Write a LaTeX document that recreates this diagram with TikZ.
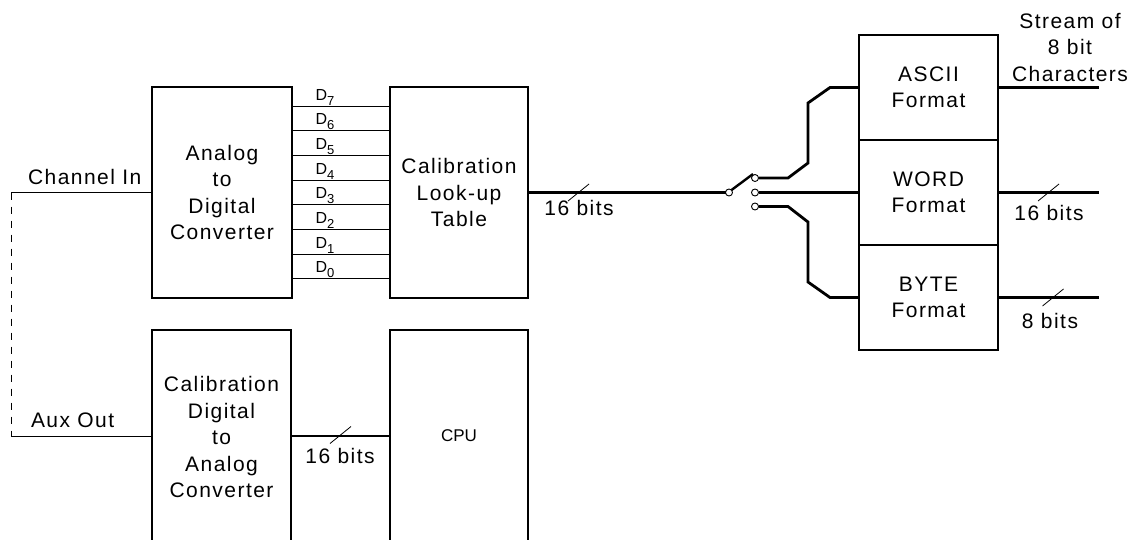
\documentclass[tikz,border=0pt]{standalone}
\usepackage{fontspec}
\setmainfont{Liberation Sans}
\newfontfamily\lblfamily{Liberation Sans}[LetterSpace=7]
\newcommand\lbl{\lblfamily\fontsize{21}{26.5}\selectfont}
\newcommand\cpufont{\rmfamily\fontsize{17}{20}\selectfont}
\newcommand\dfont{\lblfamily\fontsize{16}{18}\selectfont}
\newcommand\subfont{\lblfamily\fontsize{13}{14}\selectfont}
\begin{document}
\begin{tikzpicture}[x=1pt,y=-1pt,
  every node/.style={inner sep=0pt, outer sep=0pt},
  box/.style={draw, line width=1.1pt, align=center, font=\lbl},
  wire/.style={line width=1pt},
  bus/.style={line width=2.8pt},
  slashln/.style={line width=0.8pt},
  txt/.style={font=\lbl, align=center},
  contact/.style={circle, draw, line width=0.9pt, fill=white, minimum size=7pt},
]
\useasboundingbox (0,0) rectangle (1143,539);
\clip (0,0) rectangle (1143,539);

% main boxes
\node[box, minimum width=140, minimum height=211] (adc) at (222,192.5) {Analog\\to\\Digital\\Converter};
\node[box, minimum width=138, minimum height=211] (lut) at (459,192.5) {Calibration\\Look-up\\Table};
\node[box, minimum width=139, minimum height=214, anchor=north] (dac) at (221.5,330) {Calibration\\Digital\\to\\Analog\\Converter};
\node[box, minimum width=138, minimum height=212, anchor=north, font=\cpufont] (cpu) at (459,330) {CPU};

% format boxes
\node[box, minimum width=139, minimum height=105] (ascii) at (928.5,87.5) {ASCII\\Format};
\node[box, minimum width=139, minimum height=105] (word) at (928.5,192.5) {WORD\\Format};
\node[box, minimum width=139, minimum height=105] (byte) at (928.5,297.5) {BYTE\\Format};

% channel in / aux out
\node[txt, anchor=base west] (chin) at (28,184) {Channel In};
\node[txt, anchor=base west] (auxout) at (31,427) {Aux Out};
\coordinate (dtop) at (11,192.5);
\coordinate (dbot) at (11,436);
\draw[wire] (adc.west) -- (dtop);
\draw[wire, dash pattern=on 7pt off 7pt] (dtop) -- (dbot);
\draw[wire] (dbot) -- (dbot -| dac.west);

% data lines
\foreach \i/\y in {7/106,6/130.7,5/155.4,4/180.1,3/204.8,2/229.5,1/254.2,0/278.9}{
  \draw[wire] (adc.east |- 0,\y) -- (lut.west |- 0,\y);
  \node[anchor=base west, font=\dfont] (d\i) at (315.5,\y-6) {D\raisebox{-5pt}{\subfont\i}};
}

% switch
\node[contact] (pivot) at (729,192.5) {};
\node[contact] (c1) at (755,178) {};
\node[contact] (c2) at (755,192.5) {};
\node[contact] (c3) at (755,206.5) {};
\coordinate (lev) at (753,174);
\draw[bus] (lut.east) -- (pivot.west);
\draw[bus, line width=2.4pt] (pivot.45) -- (lev);
\draw[bus] (c1.east) -- (788,178) -- (808,163) -- (808,103) -- (830,87.5) -- (ascii.west);
\draw[bus] (c2.east) -- (word.west);
\draw[bus] (c3.east) -- (788,206.5) -- (808,222) -- (808,282) -- (830,297.5) -- (byte.west);

% outputs
\coordinate (o1) at (1099,87.5);
\coordinate (o2) at (1099,192.5);
\coordinate (o3) at (1099,297.5);
\draw[bus] (ascii.east) -- (o1);
\draw[bus] (word.east) -- (o2);
\draw[bus] (byte.east) -- (o3);
\node[txt] (stream) at (1070,47) {Stream of\\8 bit\\Characters};

% DAC to CPU bus
\draw[bus] (dac.east |- 0,436) -- (cpu.west |- 0,436);

% slashes
\draw[slashln] (578.5,192.5) +(-10.5,8.5) -- +(10.5,-8.5);
\draw[slashln] (340.5,435) +(-10.5,8.5) -- +(10.5,-8.5);
\draw[slashln] (1048.5,192.5) +(-10.5,8.5) -- +(10.5,-8.5);
\draw[slashln] (1053,297.5) +(-10.5,8.5) -- +(10.5,-8.5);

% bit labels
\node[txt, anchor=base] (b1) at (579,215) {16 bits};
\node[txt, anchor=base] (b2) at (340,463) {16 bits};
\node[txt, anchor=base] (b3) at (1049,220) {16 bits};
\node[txt, anchor=base] (b4) at (1050,328) {8 bits};
\end{tikzpicture}
\end{document}
